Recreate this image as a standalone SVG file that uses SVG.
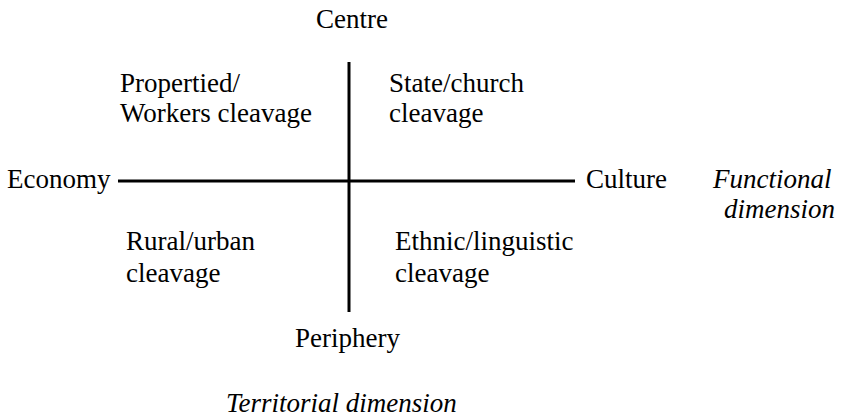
<svg xmlns="http://www.w3.org/2000/svg" width="841" height="418" viewBox="0 0 841 418">
<rect width="841" height="418" fill="#fff"/>
<g id="connectors" stroke="#000" stroke-width="3" fill="none">
<line x1="349" y1="62" x2="349" y2="312"/>
<line x1="118" y1="181" x2="575" y2="181"/>
</g>
<g id="centre" font-family="Times New Roman" font-size="27"><text x="316" y="28" font-family="Times New Roman">Centre</text></g>
<g id="periphery" font-family="Times New Roman" font-size="27"><text x="295" y="347" font-family="Times New Roman">Periphery</text></g>
<g id="economy" font-family="Times New Roman" font-size="27"><text x="7" y="188" font-family="Times New Roman">Economy</text></g>
<g id="culture" font-family="Times New Roman" font-size="27"><text x="586" y="188" font-family="Times New Roman">Culture</text></g>
<g id="propertied" font-family="Times New Roman" font-size="27"><text x="120" y="92" font-family="Times New Roman">Propertied/</text><text x="120" y="122" font-family="Times New Roman">Workers cleavage</text></g>
<g id="state" font-family="Times New Roman" font-size="27"><text x="389" y="92" font-family="Times New Roman">State/church</text><text x="389" y="122" font-family="Times New Roman">cleavage</text></g>
<g id="rural" font-family="Times New Roman" font-size="27"><text x="126" y="250" font-family="Times New Roman">Rural/urban</text><text x="126" y="282" font-family="Times New Roman">cleavage</text></g>
<g id="ethnic" font-family="Times New Roman" font-size="27"><text x="395" y="250" font-family="Times New Roman">Ethnic/linguistic</text><text x="395" y="282" font-family="Times New Roman">cleavage</text></g>
<g id="functional" font-family="Times New Roman" font-size="27" font-style="italic"><text x="713" y="188" font-family="Times New Roman">Functional</text><text x="724" y="218" font-family="Times New Roman">dimension</text></g>
<g id="territorial" font-family="Times New Roman" font-size="27" font-style="italic"><text x="226" y="412" font-family="Times New Roman">Territorial dimension</text></g>
</svg>
